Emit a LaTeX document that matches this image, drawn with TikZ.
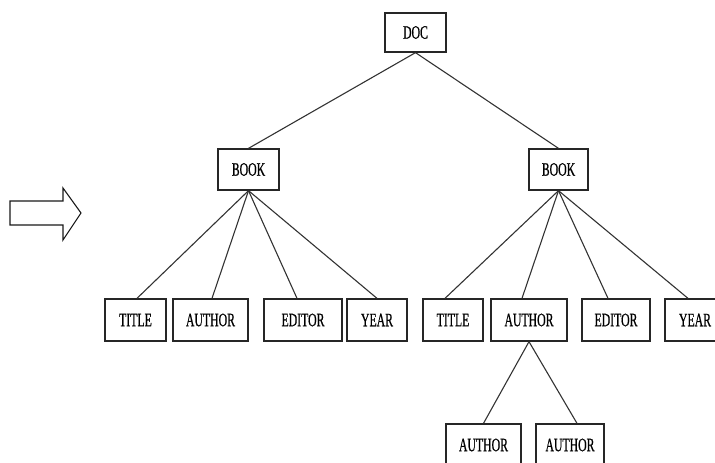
\documentclass[tikz,border=0pt]{standalone}
\usepackage{fontspec}
\setmainfont{Liberation Serif}
\newfontfamily\lblfont[FakeBold=0.8]{Liberation Serif}
\tikzset{
  box/.style={draw=black!85, line width=1.3pt, fill=white, minimum height=41pt, inner sep=0pt,
    font=\lblfont\fontsize{19pt}{19pt}\selectfont},
  edge/.style={draw=black!80, line width=1.1pt},
}
\newcommand{\lbl}[1]{\scalebox{0.62}[1]{#1}}
\begin{document}
\begin{tikzpicture}[x=1pt,y=-1pt]
\useasboundingbox (0,0) rectangle (715,463);
\clip (0,0) rectangle (715,463);
% big arrow
\draw[line width=1.1pt, draw=black!90] (10,201) -- (63,201) -- (63,188) -- (81,213) -- (63,240) -- (63,225) -- (10,225) -- cycle;
% nodes
\node[box, minimum width=61pt, minimum height=39pt] (doc) at (415.5,32.5) {\lbl{DOC}};
\node[box, minimum width=61pt] (bookL) at (248.5,169.5) {\lbl{BOOK}};
\node[box, minimum width=59pt] (bookR) at (558.5,169.5) {\lbl{BOOK}};
\node[box, minimum width=61pt, minimum height=42pt] (titleL) at (135.5,320) {\lbl{TITLE}};
\node[box, minimum width=75pt, minimum height=42pt] (authorL) at (210.5,320) {\lbl{AUTHOR}};
\node[box, minimum width=78pt, minimum height=42pt] (editorL) at (303,320) {\lbl{EDITOR}};
\node[box, minimum width=60pt, minimum height=42pt] (yearL) at (377,320) {\lbl{YEAR}};
\node[box, minimum width=60pt, minimum height=42pt] (titleR) at (453,320) {\lbl{TITLE}};
\node[box, minimum width=76pt, minimum height=42pt] (authorR) at (529,320) {\lbl{AUTHOR}};
\node[box, minimum width=68pt, minimum height=42pt] (editorR) at (616,320) {\lbl{EDITOR}};
\node[box, minimum width=60pt, minimum height=42pt] (yearR) at (695,320) {\lbl{YEAR}};
\node[box, minimum width=75pt, minimum height=42pt] (auth1) at (483.5,445) {\lbl{AUTHOR}};
\node[box, minimum width=68pt, minimum height=42pt] (auth2) at (570,445) {\lbl{AUTHOR}};
% edges
\draw[edge] (doc.south) -- (bookL.north);
\draw[edge] (doc.south) -- (bookR.north);
\draw[edge] (bookL.south) -- ([xshift=1.5pt]titleL.north);
\draw[edge] (bookL.south) -- ([xshift=1.5pt]authorL.north);
\draw[edge] (bookL.south) -- ([xshift=-6pt]editorL.north);
\draw[edge] (bookL.south) -- (yearL.north);
\draw[edge] (bookR.south) -- ([xshift=-8pt]titleR.north);
\draw[edge] (bookR.south) -- ([xshift=-7pt]authorR.north);
\draw[edge] (bookR.south) -- ([xshift=-8pt]editorR.north);
\draw[edge] (bookR.south) -- ([xshift=-7pt]yearR.north);
\draw[edge] (authorR.south) -- (auth1.north);
\draw[edge] (authorR.south) -- ([xshift=7pt]auth2.north);
\end{tikzpicture}
\end{document}
